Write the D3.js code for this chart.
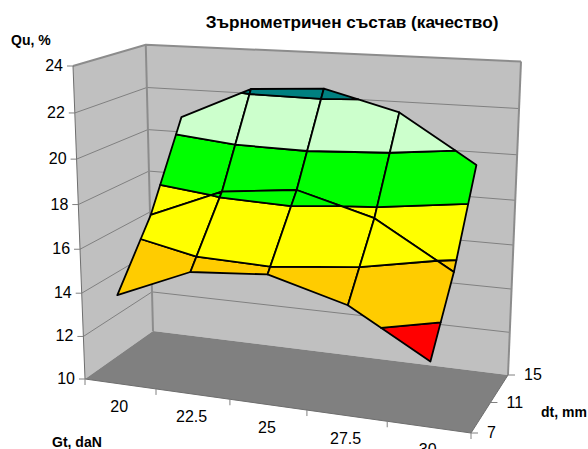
<!DOCTYPE html>
<html>

<head>
    <meta charset="utf-8">
    <title>Зърнометричен състав</title>
    <style>
        html, body { margin: 0; padding: 0; background: #fff; overflow: hidden; }
        text { font-family: "Liberation Sans", Arial, sans-serif; fill: #000; }
    </style>
</head>

<body>
    <script src="https://d3js.org/d3.v7.min.js"></script>
    <script>
    // values
    const gtLabels = ["20", "22.5", "25", "27.5", "30"];
    const dtLabels = ["7", "11", "15"];
    const zTicks = [10, 12, 14, 16, 18, 20, 22, 24];
    const qu7 = [14.1, 15.5, 15.75, 14.8, 12.82];
    const qu11 = [16.85, 18.2, 18.55, 17.6, 15.58];
    const qu15 = [20.7, 22.2, 22.4, 21.53, 19.43];
    const bandEdges = [12, 14, 16, 18, 20, 22, 24];
    const bandColors = ["#ff0000", "#ffcc00", "#ffff00", "#00ff00", "#ccffcc", "#008080"];

    const width = 588;
    const height = 449;

    // box corners on screen, the perspective is worked out from them
    const floorFrontLeft = [85, 379];
    const floorFrontRight = [471, 433];
    const floorBackRight = [508, 375];
    const floorBackLeft = [153, 331];
    const topFrontLeft = [73, 66];
    const topBackRight = [521, 64];

    const svg = d3.select("body").append("svg")
        .attr("width", width)
        .attr("height", height);

    const xBand = d3.scaleBand().domain(gtLabels).range([0, 1]);
    const yPoint = d3.scalePoint().domain(dtLabels).range([0, 1]);
    const zScale = d3.scaleLinear().domain([10, 24]).range([0, 1]);

    const project = makeProjection();

    function makeProjection() {
        const [x0, y0] = floorFrontLeft, [x1, y1] = floorFrontRight;
        const [x2, y2] = floorBackRight, [x3, y3] = floorBackLeft;
        const dx1 = x1 - x2, dx2 = x3 - x2, sx = x0 - x1 + x2 - x3;
        const dy1 = y1 - y2, dy2 = y3 - y2, sy = y0 - y1 + y2 - y3;
        const den = dx1 * dy2 - dx2 * dy1;
        const g = (sx * dy2 - dx2 * sy) / den;
        const h = (dx1 * sy - sx * dy1) / den;
        const a = x1 - x0 + g * x1, b = x3 - x0 + h * x3;
        const e = y1 - y0 + g * y1, f = y3 - y0 + h * y3;
        const [tx, ty] = topFrontLeft, gx = topBackRight[0];
        const k = (a + b + tx - gx * (g + h + 1)) / (gx - tx);
        const c = tx * (1 + k) - x0;
        const m = ty * (1 + k) - y0;
        return function(u, v, w) {
            const d = g * u + h * v + k * w + 1;
            return [(a * u + b * v + c * w + x0) / d, (e * u + f * v + m * w + y0) / d];
        };
    }

    const lineGen = d3.line();
    const polyGen = d3.line().curve(d3.curveLinearClosed);
    const boxPoint = (u, v, z) => project(u, v, zScale(z));

    // walls and floor
    const walls = [
        { fill: "#c0c0c0", pts: [[0, 0, 10], [0, 0, 24], [0, 1, 24], [0, 1, 10]] },
        { fill: "#c0c0c0", pts: [[0, 1, 10], [0, 1, 24], [1, 1, 24], [1, 1, 10]] },
        { fill: "#808080", pts: [[0, 0, 10], [1, 0, 10], [1, 1, 10], [0, 1, 10]] }
    ];
    svg.append("g").selectAll("path")
        .data(walls)
        .join("path")
        .attr("fill", d => d.fill)
        .attr("d", d => polyGen(d.pts.map(p => boxPoint(...p))));

    // gridlines on both walls
    svg.append("g").selectAll("path")
        .data(zTicks.slice(1, -1))
        .join("path")
        .attr("fill", "none")
        .attr("stroke", "#808080")
        .attr("stroke-width", 1)
        .attr("d", z => lineGen([boxPoint(0, 0, z), boxPoint(0, 1, z), boxPoint(1, 1, z)]));

    // wall edges
    const edges = [
        { w: 2, pts: [[0, 0, 24], [0, 1, 24], [1, 1, 24]] },
        { w: 2, pts: [[0, 1, 24], [0, 1, 10]] },
        { w: 2, pts: [[1, 1, 24], [1, 1, 10]] },
        { w: 1, pts: [[0, 0, 24], [0, 0, 10]] },
        { w: 1, pts: [[0, 0, 10], [1, 0, 10], [1, 1, 10]] }
    ];
    svg.append("g").selectAll("path")
        .data(edges)
        .join("path")
        .attr("fill", "none")
        .attr("stroke", d => d.w === 2 ? "#8c8c8c" : "#6e6e6e")
        .attr("stroke-width", d => d.w)
        .attr("d", d => lineGen(d.pts.map(p => boxPoint(...p))));

    // surface cells, clipped into one polygon per colour band
    const rows = [qu7, qu11, qu15];

    function clip(poly, level, keepAbove) {
        const out = [];
        poly.forEach((p, i) => {
            const q = poly[(i + 1) % poly.length];
            const pIn = keepAbove ? p[2] >= level : p[2] <= level;
            const qIn = keepAbove ? q[2] >= level : q[2] <= level;
            if (pIn) out.push(p);
            if (pIn !== qIn) {
                const t = (level - p[2]) / (q[2] - p[2]);
                out.push([p[0] + t * (q[0] - p[0]), p[1] + t * (q[1] - p[1]), level]);
            }
        });
        return out;
    }

    const cellPieces = [];
    // back row first so nearer cells paint over it
    d3.range(rows.length - 2, -1, -1).forEach(r => {
        d3.range(gtLabels.length - 1).forEach(c => {
            const u = i => xBand(gtLabels[i]) + xBand.bandwidth() / 2;
            const v = i => yPoint(dtLabels[i]);
            const quad = [
                [u(c), v(r), rows[r][c]],
                [u(c + 1), v(r), rows[r][c + 1]],
                [u(c + 1), v(r + 1), rows[r + 1][c + 1]],
                [u(c), v(r + 1), rows[r + 1][c]]
            ];
            bandColors.forEach((color, b) => {
                const part = clip(clip(quad, bandEdges[b], true), bandEdges[b + 1], false);
                if (part.length > 2) cellPieces.push({ color: color, part: part });
            });
        });
    });

    svg.append("g").selectAll("path")
        .data(cellPieces)
        .join("path")
        .attr("fill", d => d.color)
        .attr("stroke", "#000")
        .attr("stroke-width", 1.8)
        .attr("stroke-linejoin", "round")
        .attr("d", d => polyGen(d.part.map(p => boxPoint(p[0], p[1], p[2]))));

    // value axis
    const zAxis = svg.append("g").selectAll("g")
        .data(zTicks)
        .join("g")
        .attr("transform", z => "translate(" + boxPoint(0, 0, z) + ")");
    zAxis.append("line")
        .attr("x1", -6).attr("x2", 0)
        .attr("stroke", "#808080");
    zAxis.append("text")
        .attr("x", -10).attr("y", 5)
        .attr("text-anchor", "end")
        .attr("font-size", 16)
        .text(z => z);

    // Gt axis, labels sit between the ticks
    svg.append("g").selectAll("line")
        .data(d3.range(gtLabels.length + 1))
        .join("line")
        .attr("transform", i => "translate(" + boxPoint(i / gtLabels.length, 0, 10) + ")")
        .attr("y2", 6)
        .attr("stroke", "#808080");
    svg.append("g").selectAll("text")
        .data(gtLabels)
        .join("text")
        .attr("transform", d => {
            const p = boxPoint(xBand(d) + xBand.bandwidth() / 2, 0, 10);
            return "translate(" + [p[0] - 1, p[1] + 28] + ")";
        })
        .attr("text-anchor", "middle")
        .attr("font-size", 16)
        .text(d => d);

    // dt axis
    const dtAxis = svg.append("g").selectAll("g")
        .data(dtLabels)
        .join("g")
        .attr("transform", d => "translate(" + boxPoint(1, yPoint(d), 10) + ")");
    dtAxis.append("line")
        .attr("x2", 7)
        .attr("stroke", "#808080");
    dtAxis.append("text")
        .attr("x", 16).attr("y", 5)
        .attr("font-size", 16)
        .text(d => d);

    // titles
    svg.append("text")
        .attr("x", 352).attr("y", 28)
        .attr("text-anchor", "middle")
        .attr("font-size", 17.2)
        .attr("font-weight", "bold")
        .text("Зърнометричен състав (качество)");
    svg.append("text")
        .attr("x", 11).attr("y", 45)
        .attr("font-size", 14)
        .attr("font-weight", "bold")
        .text("Qu, %");
    svg.append("text")
        .attr("x", 52).attr("y", 447)
        .attr("font-size", 14)
        .attr("font-weight", "bold")
        .text("Gt, daN");
    svg.append("text")
        .attr("x", 541).attr("y", 417)
        .attr("font-size", 14)
        .attr("font-weight", "bold")
        .text("dt, mm");
    </script>
</body>

</html>
